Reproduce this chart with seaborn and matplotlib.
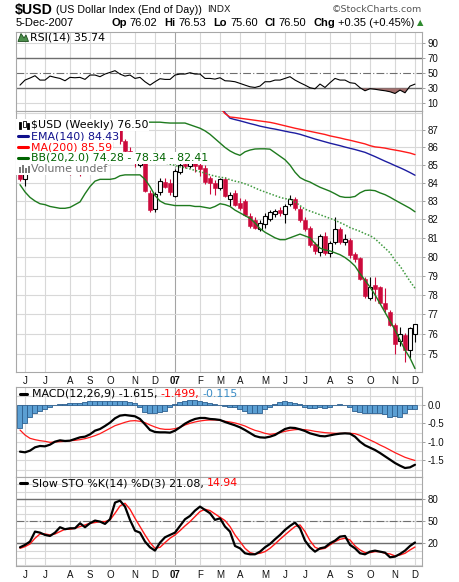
import numpy as np
import pandas as pd
import matplotlib
matplotlib.use("Agg")
import matplotlib.pyplot as plt
import seaborn as sns
from matplotlib.lines import Line2D
from matplotlib.patches import Rectangle, Polygon
from matplotlib.ticker import FixedLocator, NullLocator, FixedFormatter

# ---------------- data (weekly bars, Mondays) ----------------
dates = pd.date_range("2006-05-29", periods=80, freq="W-MON")

opens = [84.80, 84.20, 84.75, 85.30, 85.90, 85.55, 85.15, 85.55, 85.05, 85.35,
         84.95, 84.60, 85.15, 84.60, 84.95, 85.05, 86.00, 85.65, 86.00, 86.65,
         87.05, 86.35, 85.80, 85.45, 85.00, 85.10, 83.45, 82.55, 83.50, 84.05,
         84.00, 83.30, 84.60, 85.05, 84.95, 85.30, 85.00, 84.85, 84.25, 84.00,
         83.70, 84.20, 83.10, 83.45, 82.90, 83.00, 82.20, 81.95, 81.50, 81.75,
         82.00, 82.30, 82.50, 82.30, 82.85, 83.10, 82.55, 81.95, 81.55, 80.65,
         80.25, 81.10, 80.20, 80.75, 81.45, 80.75, 80.90, 80.15, 79.90, 78.80,
         77.85, 78.50, 78.40, 77.60, 77.10, 76.45, 75.65, 75.95, 75.20, 76.02]
closes = [84.20, 84.80, 85.30, 85.90, 85.55, 85.15, 85.55, 85.05, 85.40, 84.80,
          84.60, 85.15, 84.60, 85.05, 85.30, 86.00, 85.65, 86.45, 86.70, 87.00,
          86.35, 85.80, 85.45, 85.10, 85.15, 83.55, 82.50, 83.40, 84.10, 83.80,
          83.50, 84.65, 85.00, 84.95, 85.25, 84.95, 84.80, 84.05, 84.00, 83.70,
          84.20, 83.30, 83.35, 82.80, 82.60, 82.25, 81.65, 81.55, 81.80, 82.20,
          82.40, 82.45, 82.35, 82.75, 83.10, 82.60, 81.95, 81.45, 80.60, 80.30,
          81.10, 80.20, 80.70, 81.45, 80.75, 80.95, 80.10, 79.85, 78.80, 77.95,
          78.40, 78.30, 77.60, 77.25, 76.45, 75.50, 76.00, 75.20, 76.30, 76.50]
highs = [84.95, 85.00, 85.45, 86.10, 86.20, 85.80, 85.75, 85.70, 85.60, 85.50,
         85.15, 85.30, 85.30, 85.20, 85.45, 86.10, 86.30, 86.60, 86.90, 87.15,
         87.25, 86.50, 86.00, 85.60, 85.35, 85.25, 83.60, 83.50, 84.25, 84.25,
         84.20, 84.80, 85.40, 85.20, 85.50, 85.45, 85.15, 85.00, 84.40, 84.15,
         84.30, 84.35, 83.50, 83.60, 83.15, 83.10, 82.35, 82.10, 81.95, 82.35,
         82.50, 82.55, 82.65, 82.85, 83.35, 83.20, 82.70, 82.10, 81.65, 80.80,
         81.20, 81.30, 80.85, 82.15, 81.60, 81.20, 81.00, 80.25, 80.00, 78.95,
         78.90, 78.95, 78.45, 78.35, 77.20, 76.55, 76.35, 76.05, 76.35, 76.53]
lows = [84.10, 83.85, 84.60, 85.10, 85.40, 84.95, 85.00, 84.90, 84.85, 84.55,
        84.45, 84.50, 84.40, 84.55, 84.85, 84.80, 85.00, 85.50, 85.90, 86.50,
        86.20, 85.55, 85.20, 84.90, 84.90, 83.50, 82.40, 82.40, 83.35, 83.70,
        83.35, 83.20, 84.50, 84.85, 84.85, 84.60, 84.40, 83.95, 83.40, 83.35,
        83.60, 83.20, 82.75, 82.70, 82.50, 82.20, 81.55, 81.45, 81.35, 81.55,
        81.90, 82.10, 82.20, 81.80, 82.70, 82.50, 81.85, 81.35, 80.50, 80.15,
        80.05, 80.10, 80.00, 80.65, 80.65, 80.60, 79.95, 79.70, 78.75, 77.85,
        77.75, 77.70, 77.50, 77.10, 76.40, 75.00, 75.40, 74.60, 74.80, 75.60]

bb_upper = [86.30, 86.40, 86.60, 86.80, 87.00, 87.10, 87.15, 87.20, 87.20, 87.15,
            87.05, 86.95, 86.85, 86.75, 86.70, 86.70, 86.72, 86.85, 87.05, 87.20,
            87.30, 87.35, 87.40, 87.40, 87.42, 87.45, 87.45, 87.45, 87.45, 87.42,
            87.40, 87.40, 87.40, 87.40, 87.30, 87.20, 87.10, 86.95, 86.75, 86.50,
            86.25, 86.00, 85.80, 85.65, 85.55, 85.75, 85.85, 85.91, 85.92, 85.92,
            85.90, 85.70, 85.50, 85.30, 85.00, 84.60, 84.30, 84.15, 84.05, 83.90,
            83.76, 83.65, 83.54, 83.40, 83.25, 83.20, 83.20, 83.25, 83.45, 83.58,
            83.60, 83.57, 83.45, 83.35, 83.21, 83.05, 82.90, 82.75, 82.60, 82.41]
bb_middle = [85.10, 84.95, 84.90, 84.90, 84.92, 84.95, 84.93, 84.92, 84.90, 84.88,
             84.85, 84.88, 84.90, 85.10, 85.20, 85.30, 85.35, 85.40, 85.45, 85.52,
             85.58, 85.62, 85.65, 85.65, 85.62, 85.55, 85.45, 85.30, 85.20, 85.12,
             85.05, 84.98, 84.90, 84.85, 84.78, 84.70, 84.62, 84.55, 84.45, 84.38,
             84.32, 84.28, 84.18, 84.10, 84.04, 83.95, 83.85, 83.72, 83.60, 83.50,
             83.40, 83.30, 83.20, 83.13, 83.10, 82.95, 82.75, 82.55, 82.45, 82.35,
             82.25, 82.15, 82.05, 81.95, 81.82, 81.70, 81.55, 81.45, 81.35, 81.22,
             81.12, 80.95, 80.70, 80.45, 80.20, 79.80, 79.50, 79.10, 78.70, 78.34]
bb_lower = [83.90, 83.50, 83.20, 83.00, 82.85, 82.80, 82.70, 82.65, 82.60, 82.60,
            82.65, 82.80, 82.95, 83.40, 83.80, 84.10, 84.20, 84.20, 84.20, 84.25,
            84.40, 84.45, 84.45, 84.45, 84.45, 84.20, 83.80, 83.30, 83.00, 82.85,
            82.80, 82.75, 82.75, 82.75, 82.75, 82.70, 82.70, 82.65, 82.60, 82.70,
            82.85, 82.80, 82.70, 82.50, 82.35, 82.20, 82.05, 81.80, 81.50, 81.30,
            81.15, 81.00, 80.90, 80.90, 81.00, 81.10, 81.20, 81.10, 81.00, 80.70,
            80.45, 80.35, 80.30, 80.20, 80.10, 79.95, 79.75, 79.50, 79.10, 78.75,
            78.40, 78.00, 77.55, 77.10, 76.65, 76.20, 75.70, 75.20, 74.80, 74.28]
nan = np.nan
ema140 = [nan] * 40 + [88.35, 88.00, 87.68, 87.60, 87.53, 87.45, 87.37, 87.30, 87.22, 87.16,
                       87.10, 87.05, 86.99, 86.93, 86.87, 86.82, 86.75, 86.66, 86.57, 86.48,
                       86.40, 86.32, 86.24, 86.17, 86.10, 86.02, 85.95, 85.88, 85.80, 85.72,
                       85.60, 85.48, 85.35, 85.22, 85.10, 84.97, 84.85, 84.72, 84.58, 84.43]
ma200 = [nan] * 40 + [88.30, 87.95, 87.75, 87.72, 87.68, 87.64, 87.60, 87.56, 87.52, 87.48,
                      87.44, 87.38, 87.31, 87.24, 87.17, 87.10, 87.04, 86.98, 86.92, 86.86,
                      86.80, 86.74, 86.66, 86.60, 86.54, 86.47, 86.41, 86.34, 86.27, 86.20,
                      86.10, 86.03, 86.00, 85.96, 85.90, 85.85, 85.80, 85.74, 85.68, 85.59]

rsi = [34.4, 41.1, 43.8, 46.9, 41.1, 41.1, 46.4, 44.7, 43.3, 40.2,
       44.7, 44.2, 44.7, 42.0, 47.8, 47.8, 45.6, 49.1, 51.3, 53.6,
       49.1, 46.4, 47.8, 43.3, 44.7, 38.9, 34.4, 38.9, 42.9, 42.0,
       42.0, 47.8, 49.1, 49.1, 50.9, 49.1, 49.1, 43.3, 43.3, 42.4,
       44.2, 40.2, 39.8, 38.9, 36.7, 34.4, 32.2, 31.3, 33.1, 38.9,
       38.9, 41.1, 41.1, 43.3, 45.6, 41.1, 37.6, 34.4, 30.9, 29.5,
       35.8, 31.3, 37.6, 43.3, 41.1, 41.1, 37.6, 36.7, 31.0, 26.9,
       29.6, 28.9, 27.8, 26.9, 25.6, 23.3, 27.8, 24.2, 33.1, 35.74]

macd = [-1.261, -1.279, -1.234, -1.144, -1.108, -1.117, -1.072, -0.991, -0.955, -0.973,
        -0.964, -0.919, -0.874, -0.856, -0.793, -0.694, -0.649, -0.568, -0.477, -0.360,
        -0.288, -0.270, -0.288, -0.306, -0.378, -0.523, -0.676, -0.730, -0.739, -0.739,
        -0.748, -0.694, -0.604, -0.505, -0.432, -0.378, -0.351, -0.351, -0.378, -0.387,
        -0.405, -0.459, -0.505, -0.550, -0.604, -0.676, -0.757, -0.838, -0.874, -0.883,
        -0.856, -0.811, -0.730, -0.649, -0.613, -0.622, -0.658, -0.703, -0.766, -0.802,
        -0.838, -0.847, -0.820, -0.793, -0.775, -0.766, -0.775, -0.856, -0.991, -1.090,
        -1.153, -1.216, -1.297, -1.387, -1.477, -1.568, -1.640, -1.703, -1.685, -1.615]
signal = [-0.676, -0.811, -0.901, -0.937, -0.964, -0.982, -1.009, -1.000, -0.991, -0.982,
          -0.964, -0.955, -0.937, -0.910, -0.874, -0.829, -0.775, -0.703, -0.631, -0.559,
          -0.514, -0.468, -0.432, -0.423, -0.441, -0.477, -0.541, -0.595, -0.640, -0.658,
          -0.658, -0.640, -0.604, -0.541, -0.495, -0.459, -0.432, -0.414, -0.405, -0.405,
          -0.414, -0.441, -0.459, -0.486, -0.523, -0.568, -0.631, -0.685, -0.721, -0.766,
          -0.793, -0.775, -0.748, -0.712, -0.685, -0.667, -0.658, -0.667, -0.685, -0.712,
          -0.730, -0.748, -0.757, -0.766, -0.766, -0.766, -0.766, -0.775, -0.820, -0.883,
          -0.946, -1.009, -1.081, -1.144, -1.216, -1.288, -1.351, -1.414, -1.459, -1.499]
hist = [-0.631, -0.477, -0.315, -0.207, -0.153, -0.117, -0.045, 0.000, 0.018, 0.027,
        0.045, 0.045, 0.063, 0.081, 0.108, 0.117, 0.117, 0.117, 0.117, 0.117,
        0.117, 0.108, 0.090, 0.063, -0.045, -0.180, -0.207, -0.207, -0.180, -0.153,
        -0.063, 0.027, 0.090, 0.117, 0.135, 0.135, 0.117, 0.072, 0.045, 0.027,
        0.000, -0.027, -0.045, -0.063, -0.108, -0.153, -0.207, -0.225, -0.207, -0.117,
        -0.045, 0.018, 0.072, 0.108, 0.090, 0.063, 0.018, -0.063, -0.072, -0.090,
        -0.063, -0.090, -0.045, 0.000, 0.027, 0.000, -0.063, -0.153, -0.198, -0.207,
        -0.207, -0.225, -0.225, -0.243, -0.315, -0.297, -0.315, -0.207, -0.117, -0.115]

sto_k = [14.6, 17.8, 22.3, 35.8, 34.4, 31.3, 29.9, 34.4, 41.7, 39.0,
         40.3, 40.3, 47.1, 41.7, 47.1, 50.7, 49.3, 46.2, 52.5, 75.0,
         77.7, 69.6, 51.6, 37.1, 34.4, 22.3, 14.6, 10.1, 20.9, 28.1,
         31.3, 34.4, 43.5, 52.5, 57.0, 64.2, 69.6, 65.1, 60.6, 51.6,
         53.8, 42.6, 35.8, 16.4, 13.2, 6.5, 5.1, 5.1, 8.7, 14.6,
         19.1, 25.4, 31.3, 38.1, 43.5, 48.0, 40.3, 23.6, 14.6, 8.7,
         13.2, 14.6, 20.0, 23.6, 29.0, 29.9, 17.8, 13.2, 6.5, 5.1,
         8.7, 10.1, 8.7, 7.4, 1.1, 2.0, 5.6, 10.1, 16.4, 21.08]
sto_d = [13.2, 15.5, 19.1, 26.8, 32.6, 32.6, 31.3, 32.6, 35.8, 39.0,
         39.0, 40.3, 42.6, 44.8, 47.1, 48.0, 49.3, 49.3, 51.6, 60.6,
         70.5, 74.1, 66.0, 53.8, 42.6, 31.3, 20.9, 13.2, 14.6, 20.9,
         26.8, 31.3, 37.1, 43.5, 49.3, 56.1, 62.9, 66.0, 64.2, 59.7,
         55.2, 50.7, 42.6, 31.3, 22.3, 13.2, 7.4, 5.6, 6.5, 8.7,
         13.2, 19.1, 25.4, 31.3, 37.1, 42.6, 44.8, 35.8, 23.6, 14.6,
         11.9, 13.2, 17.8, 22.3, 25.4, 26.8, 24.5, 16.4, 11.0, 7.4,
         7.4, 8.7, 8.7, 6.5, 5.6, 2.9, 4.2, 6.5, 11.0, 14.94]

price_ticks = list(range(75, 88))
rsi_ticks = [10, 30, 50, 70, 90]
macd_ticks = [0.0, -0.5, -1.0, -1.5]
sto_ticks = [20, 50, 80]

# ---------------- style ----------------
sns.set_style("white")
plt.rcParams["font.family"] = ["DejaVu Sans"]

W, H = 460, 582
fig = plt.figure(figsize=(W / 100, H / 100), dpi=100)
fig.patch.set_facecolor("white")


def fx(px):
    return px / W


def fy(py):
    return 1 - py / H


def add_ax(top, bottom):
    return fig.add_axes([fx(16), fy(bottom), 406 / W, (bottom - top) / H])


ax_r = add_ax(32, 111)
ax_p = add_ax(111, 372)
ax_m = add_ax(387, 477)
ax_s = add_ax(477, 566)

x = np.arange(len(dates))
month_idx = [i for i in range(1, len(dates)) if dates[i].month != dates[i - 1].month]
month_labels = ["07" if dates[i].month == 1 else dates[i].strftime("%b")[0] for i in month_idx]

GRID = "#d8d8d8"
REF = "#6e6e6e"
RED_C = "#cc0a3c"
GREEN = "#1e7a1e"
TICKFONT = "Liberation Sans"


def base_style(ax):
    ax.set_facecolor("white")
    ax.grid(False)
    for s in ax.spines.values():
        s.set_color("#a8a8a8")
        s.set_linewidth(0.8)
    for m in month_idx:
        ax.axvline(m, color="#a4a4a4" if dates[m].month == 1 else GRID, lw=0.8, zorder=0)
    ax.yaxis.tick_right()
    ax.tick_params(axis="y", which="major", length=2, width=0.6, color="#909090", pad=2,
                   labelsize=7, labelcolor="#111111", labelfontfamily=TICKFONT)
    ax.tick_params(axis="y", which="minor", length=0)


def month_axis(ax):
    ax.set_xticks(month_idx)
    ax.set_xticklabels(month_labels)
    ax.set_xticks(x, minor=True)
    ax.tick_params(axis="x", which="major", length=2, width=0.6, color="#909090", pad=1,
                   labelsize=7, labelcolor="#111111", labelfontfamily=TICKFONT)
    ax.tick_params(axis="x", which="minor", length=1.5, width=0.5, color="#b0b0b0")
    for t in ax.get_xticklabels():
        if t.get_text() == "07":
            t.set_fontweight("bold")


# ---------------- RSI ----------------
base_style(ax_r)
rsi_a = np.array(rsi)
for v in [10, 90]:
    ax_r.axhline(v, color=GRID, lw=0.8, zorder=0)
ax_r.axhline(70, color=REF, lw=1.0, zorder=1)
ax_r.axhline(30, color=REF, lw=1.0, zorder=1)
ax_r.axhline(50, color=REF, lw=0.8, ls=(0, (7, 2, 1, 2)), zorder=1)
ax_r.fill_between(x, rsi_a, 30, where=rsi_a < 30, interpolate=True, color="#a36f6d", lw=0, zorder=2)
sns.lineplot(x=x, y=rsi_a, ax=ax_r, color="black", linewidth=0.8, estimator=None, sort=False,
             legend=False, zorder=3)
ax_r.set_ylim(0, 105)
ax_r.yaxis.set_major_locator(FixedLocator(rsi_ticks))
ax_r.yaxis.set_minor_locator(NullLocator())
ax_r.set_xticks([])
ax_r.set_xlim(-0.8, 80.4)
ax_r.set_xlabel("")
ax_r.set_ylabel("")

# ---------------- Price ----------------
base_style(ax_p)
ax_p.set_yscale("log")
for v in range(74, 89):
    ax_p.axhline(v, color=GRID, lw=0.8, zorder=0)
o = np.array(opens)
c = np.array(closes)
hi = np.array(highs)
lo = np.array(lows)
up = c >= o
wick_cols = np.where(up, "black", RED_C)
ax_p.vlines(x, lo, hi, colors=wick_cols, lw=0.8, zorder=3)
bottoms = np.minimum(o, c)
heights = np.maximum(np.abs(c - o), 0.03)
ax_p.bar(x[up], heights[up], bottom=bottoms[up], width=0.72, facecolor="white",
         edgecolor="black", linewidth=0.8, zorder=4)
ax_p.bar(x[~up], heights[~up], bottom=bottoms[~up], width=0.8, facecolor=RED_C,
         edgecolor=RED_C, linewidth=0.4, zorder=4)

sns.lineplot(x=x, y=bb_upper, ax=ax_p, color=GREEN, linewidth=1.0, estimator=None, sort=False,
             legend=False, zorder=5)
sns.lineplot(x=x, y=bb_lower, ax=ax_p, color=GREEN, linewidth=1.0, estimator=None, sort=False,
             legend=False, zorder=5)
sns.lineplot(x=x, y=bb_middle, ax=ax_p, color="#3f9a3f", linewidth=1.1, linestyle=(0, (1, 1.2)),
             estimator=None, sort=False, legend=False, zorder=5)
sns.lineplot(x=x, y=ema140, ax=ax_p, color="#1c1ca0", linewidth=1.0, estimator=None, sort=False,
             legend=False, zorder=5)
sns.lineplot(x=x, y=ma200, ax=ax_p, color="#ff1a1a", linewidth=1.0, estimator=None, sort=False,
             legend=False, zorder=5)
ax_p.set_ylim(74.11, 88.1)
ax_p.yaxis.set_major_locator(FixedLocator(price_ticks))
ax_p.yaxis.set_major_formatter(FixedFormatter([str(v) for v in price_ticks]))
ax_p.yaxis.set_minor_locator(NullLocator())
ax_p.set_xlim(-0.8, 80.4)
month_axis(ax_p)
ax_p.set_xlabel("")
ax_p.set_ylabel("")

# ---------------- MACD ----------------
base_style(ax_m)
for v in np.arange(-1.75, 0.3, 0.25):
    ax_m.axhline(v, color=GRID, lw=0.8, zorder=0)
ax_m.bar(x, hist, width=1.0, color="#5b9fd3", edgecolor="#2d5f8f", linewidth=0.6, zorder=2)
sns.lineplot(x=x, y=signal, ax=ax_m, color="#ff1a1a", linewidth=0.9, estimator=None, sort=False,
             legend=False, zorder=3)
sns.lineplot(x=x, y=macd, ax=ax_m, color="black", linewidth=1.6, estimator=None, sort=False,
             legend=False, zorder=4)
ax_m.set_ylim(-1.946, 0.486)
ax_m.yaxis.set_major_locator(FixedLocator(macd_ticks))
ax_m.yaxis.set_major_formatter(FixedFormatter([f"{v:.1f}" for v in macd_ticks]))
ax_m.yaxis.set_minor_locator(NullLocator())
ax_m.set_xticks([])
ax_m.set_xlim(-0.8, 80.4)
ax_m.set_xlabel("")
ax_m.set_ylabel("")

# ---------------- Slow Stochastic ----------------
base_style(ax_s)
for v in range(-10, 110, 10):
    ax_s.axhline(v, color=GRID, lw=0.8, zorder=0)
ax_s.axhline(80, color=REF, lw=1.0, zorder=1)
ax_s.axhline(20, color=REF, lw=1.0, zorder=1)
ax_s.axhline(50, color=REF, lw=0.8, ls=(0, (7, 2, 1, 2)), zorder=1)
sns.lineplot(x=x, y=sto_d, ax=ax_s, color="#ff1a1a", linewidth=1.0, estimator=None, sort=False,
             legend=False, zorder=3)
sns.lineplot(x=x, y=sto_k, ax=ax_s, color="black", linewidth=1.6, estimator=None, sort=False,
             legend=False, zorder=4)
ax_s.set_ylim(-10.7, 109.6)
ax_s.yaxis.set_major_locator(FixedLocator(sto_ticks))
ax_s.yaxis.set_minor_locator(NullLocator())
ax_s.set_xlim(-0.8, 80.4)
month_axis(ax_s)
ax_s.set_xlabel("")
ax_s.set_ylabel("")

# ---------------- texts ----------------
renderer = fig.canvas.get_renderer()


def seq(x0, yc, parts, right=None):
    texts = []
    widths = []
    for s, kw, gap in parts:
        t = fig.text(0, fy(yc), s, va="center", ha="left", **kw)
        w = t.get_window_extent(renderer=renderer).width
        texts.append(t)
        widths.append(w + gap)
    total = sum(widths)
    start = x0 if right is None else right - total
    xx = start
    for t, w in zip(texts, widths):
        t.set_x(fx(xx))
        xx += w
    return xx


LEG = dict(fontfamily="DejaVu Sans", fontsize=7.9)
TT = dict(fontfamily="Liberation Sans")

# title line
seq(15, 10, [("$USD", dict(fontsize=10.2, fontweight="bold", color="black", **TT), 3),
             ("(US Dollar Index (End of Day))", dict(fontsize=7.7, color="black", **TT), 5),
             ("INDX", dict(fontsize=6.8, color="#222222", fontfamily="DejaVu Sans"), 0)])
fig.text(fx(422), fy(10), "\u00a9StockCharts.com", ha="right", va="center",
         fontsize=6.8, color="#555555", fontfamily="DejaVu Sans")

fig.text(fx(16), fy(23), "5-Dec-2007", ha="left", va="center", fontsize=8, color="black", **TT)
B = dict(fontsize=8, fontweight="bold", color="black", **TT)
N = dict(fontsize=8, color="black", **TT)
seq(0, 23, [("Op", B, 3), ("76.02", N, 7), ("Hi", B, 3), ("76.53", N, 7),
            ("Lo", B, 3), ("75.60", N, 7), ("Cl", B, 3), ("76.50", N, 7),
            ("Chg", B, 3), ("+0.35 (+0.45%)", N, 2),
            ("\u25b2", dict(fontsize=6, color="#2e8b2e", fontfamily="DejaVu Sans"), 0)], right=423)

# RSI label
fig.text(fx(30), fy(37), "RSI(14) 35.74", ha="left", va="center", color="black", **LEG)
fig.add_artist(Polygon([[fx(18), fy(41.5)], [fx(21), fy(33.5)], [fx(24), fy(38)],
                        [fx(26), fy(35)], [fx(28.5), fy(41.5)]], closed=True,
                       facecolor="#4d8f4d", edgecolor="#1d4d1d", lw=0.6,
                       transform=fig.transFigure, zorder=6))

# price legend (each line on a white box)
legend_rows = [("$USD (Weekly) 76.50", "black", 125),
               ("EMA(140) 84.43", "#10108c", 136),
               ("MA(200) 85.59", "#ff0000", 147),
               ("BB(20,2.0) 74.28 - 78.34 - 82.41", "#006400", 158),
               ("Volume undef", "#707070", 169)]
for s, col, yy in legend_rows:
    fig.text(fx(17), fy(yy), "    " + s, color=col, ha="left", va="center",
             bbox=dict(facecolor="white", edgecolor="none", pad=0.7), zorder=5, **LEG)

for col, yy in [("#10108c", 136), ("#ff0000", 147), ("#006400", 158)]:
    fig.add_artist(Line2D([fx(18), fx(28)], [fy(yy), fy(yy)], color=col, lw=2.2,
                          transform=fig.transFigure, zorder=6))
# candle icon
for (x0, y0, x1, y1, filled) in [(19, 122, 21.5, 129, True), (23, 121, 25.5, 127, False),
                                 (27, 123, 29.5, 129, True)]:
    fig.add_artist(Rectangle((fx(x0), fy(y1)), fx(x1) - fx(x0), fy(y0) - fy(y1),
                             facecolor="black" if filled else "white", edgecolor="black",
                             lw=0.6, transform=fig.transFigure, zorder=6))
# volume icon
for (x0, y0) in [(19, 167), (22, 165), (25, 168), (28, 166)]:
    fig.add_artist(Rectangle((fx(x0), fy(173)), fx(2.2), fy(y0) - fy(173),
                             facecolor="#7a7a7a", edgecolor="none",
                             transform=fig.transFigure, zorder=6))

# MACD label
fig.add_artist(Line2D([fx(20), fx(27)], [fy(394), fy(394)], color="black", lw=2.2,
                      transform=fig.transFigure, zorder=6))
seq(32, 394, [("MACD(12,26,9) -1.615,", dict(color="black", **LEG), 3),
              ("-1.499,", dict(color="#ff0000", **LEG), 3),
              ("-0.115", dict(color="#3a8cc6", **LEG), 0)])

# Stochastic label
fig.add_artist(Line2D([fx(20), fx(27)], [fy(483), fy(483)], color="black", lw=2.2,
                      transform=fig.transFigure, zorder=6))
seq(32, 483, [("Slow STO %K(14) %D(3) 21.08,", dict(color="black", **LEG), 3),
              ("14.94", dict(color="#ff0000", **LEG), 0)])

fig.savefig("out.png", dpi=100, facecolor="white")
